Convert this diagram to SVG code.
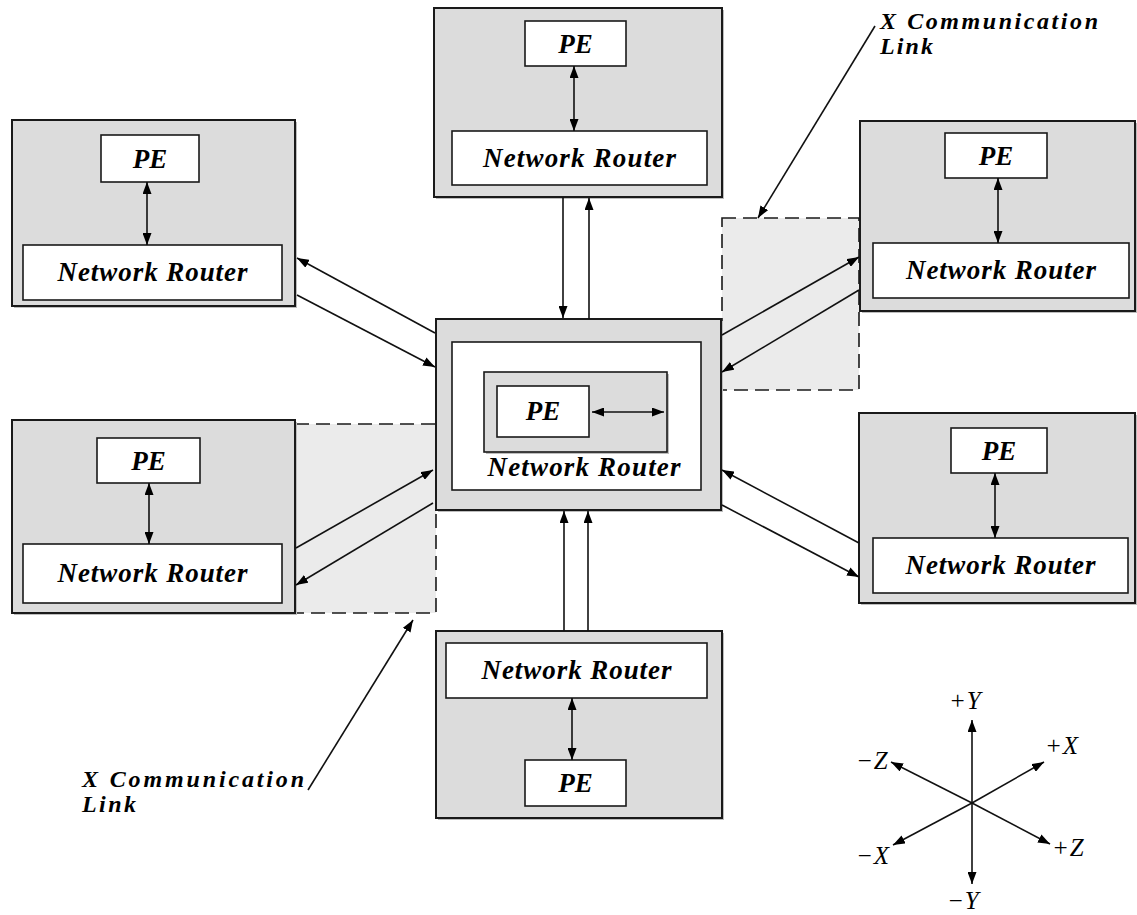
<svg xmlns="http://www.w3.org/2000/svg" width="1137" height="915" viewBox="0 0 1137 915">
<style>
.outer{fill:#dcdcdc;stroke:#1a1a1a;stroke-width:2}
.shadow{fill:#bdbdbd}
.box{fill:#fff;stroke:#1a1a1a;stroke-width:1.6}
.inner{fill:#dcdcdc;stroke:#1a1a1a;stroke-width:1.6}
.zone{fill:#ebebeb;stroke:#1a1a1a;stroke-width:1.6;stroke-dasharray:14 7}
.ln{stroke:#111;stroke-width:1.6;fill:none}
.t{font-family:"Liberation Serif","Times New Roman",serif;font-style:italic;font-weight:bold;font-size:27px;fill:#000}
.lb{font-family:"Liberation Serif","Times New Roman",serif;font-style:italic;font-weight:bold;font-size:24px;fill:#000}
.nr{text-anchor:middle}
.pe{text-anchor:middle}
.ax{font-family:"Liberation Serif","Times New Roman",serif;font-style:italic;font-size:25px;fill:#000;letter-spacing:1px}
</style>
<defs>
<marker id="ah" markerUnits="userSpaceOnUse" markerWidth="12" markerHeight="9" refX="12" refY="4.5" orient="auto-start-reverse">
<path d="M0,0 L12,4.5 L0,9 z" fill="#000"/>
</marker>
</defs>
<rect width="1137" height="915" fill="#fff"/>

<g id="zones">
<rect class="zone" x="722" y="218" width="137" height="172"/>
<rect class="zone" x="295" y="424" width="141" height="189"/>
</g>

<g id="node-top">
<rect class="shadow" x="436" y="10" width="288" height="189"/>
<rect class="outer" x="434" y="8" width="288" height="189"/>
<rect class="box" x="525" y="21" width="101" height="45"/>
<text class="t pe" x="575.5" y="53">PE</text>
<rect class="box" x="452" y="131" width="255" height="54"/>
<text class="t nr" x="579.5" y="167" textLength="193" lengthAdjust="spacing">Network Router</text>
</g>

<g id="node-left-top">
<rect class="shadow" x="14" y="122" width="283" height="186"/>
<rect class="outer" x="12" y="120" width="283" height="186"/>
<rect class="box" x="101" y="135" width="98" height="47"/>
<text class="t pe" x="150" y="168">PE</text>
<rect class="box" x="23" y="245" width="259" height="55"/>
<text class="t nr" x="152.5" y="281" textLength="190" lengthAdjust="spacing">Network Router</text>
</g>

<g id="node-right-top">
<rect class="shadow" x="862" y="123" width="275" height="190"/>
<rect class="outer" x="860" y="121" width="275" height="190"/>
<rect class="box" x="945" y="133" width="102" height="45"/>
<text class="t pe" x="996" y="165">PE</text>
<rect class="box" x="873" y="243" width="256" height="55"/>
<text class="t nr" x="1001" y="279" textLength="190" lengthAdjust="spacing">Network Router</text>
</g>

<g id="node-left-bottom">
<rect class="shadow" x="14" y="422" width="283" height="193"/>
<rect class="outer" x="12" y="420" width="283" height="193"/>
<rect class="box" x="97" y="438" width="103" height="45"/>
<text class="t pe" x="148.5" y="470">PE</text>
<rect class="box" x="23" y="544" width="259" height="59"/>
<text class="t nr" x="152.5" y="582" textLength="190" lengthAdjust="spacing">Network Router</text>
</g>

<g id="node-right-bottom">
<rect class="shadow" x="861" y="415" width="276" height="190"/>
<rect class="outer" x="859" y="413" width="276" height="190"/>
<rect class="box" x="951" y="428" width="96" height="45"/>
<text class="t pe" x="999" y="460">PE</text>
<rect class="box" x="873" y="538" width="255" height="55"/>
<text class="t nr" x="1000.5" y="574" textLength="190" lengthAdjust="spacing">Network Router</text>
</g>

<g id="node-bottom">
<rect class="shadow" x="438" y="633" width="286" height="187"/>
<rect class="outer" x="436" y="631" width="286" height="187"/>
<rect class="box" x="446" y="643" width="261" height="55"/>
<text class="t nr" x="576.5" y="679" textLength="190" lengthAdjust="spacing">Network Router</text>
<rect class="box" x="525" y="760" width="101" height="46"/>
<text class="t pe" x="575.5" y="792">PE</text>
</g>

<g id="node-center">
<rect class="shadow" x="438" y="321" width="285" height="191"/>
<rect class="outer" x="436" y="319" width="285" height="191"/>
<rect class="box" x="452" y="342" width="249" height="148"/>
<rect class="shadow" x="486" y="374" width="183" height="80"/>
<rect class="inner" x="484" y="372" width="183" height="80"/>
<rect class="box" x="497" y="386" width="92" height="51"/>
<text class="t pe" x="543" y="420">PE</text>
<text class="t nr" x="584" y="476" textLength="193" lengthAdjust="spacing">Network Router</text>
</g>

<g id="connectors">
<line class="ln" x1="574" y1="66" x2="574" y2="131" marker-start="url(#ah)" marker-end="url(#ah)"/>
<line class="ln" x1="147" y1="182" x2="147" y2="245" marker-start="url(#ah)" marker-end="url(#ah)"/>
<line class="ln" x1="998" y1="178" x2="998" y2="243" marker-start="url(#ah)" marker-end="url(#ah)"/>
<line class="ln" x1="149" y1="483" x2="149" y2="544" marker-start="url(#ah)" marker-end="url(#ah)"/>
<line class="ln" x1="995" y1="473" x2="995" y2="538" marker-start="url(#ah)" marker-end="url(#ah)"/>
<line class="ln" x1="572" y1="698" x2="572" y2="760" marker-start="url(#ah)" marker-end="url(#ah)"/>
<line class="ln" x1="592" y1="412" x2="664" y2="412" marker-start="url(#ah)" marker-end="url(#ah)"/>

<line class="ln" x1="563" y1="197" x2="563" y2="318" marker-end="url(#ah)"/>
<line class="ln" x1="589" y1="319" x2="589" y2="198" marker-end="url(#ah)"/>

<line class="ln" x1="564" y1="631" x2="564" y2="511" marker-end="url(#ah)"/>
<line class="ln" x1="588" y1="631" x2="588" y2="511" marker-end="url(#ah)"/>

<line class="ln" x1="435" y1="333" x2="297" y2="258" marker-end="url(#ah)"/>
<line class="ln" x1="297" y1="295" x2="435" y2="367" marker-end="url(#ah)"/>

<line class="ln" x1="722" y1="335" x2="859" y2="257" marker-end="url(#ah)"/>
<line class="ln" x1="859" y1="290" x2="722" y2="372" marker-end="url(#ah)"/>

<line class="ln" x1="859" y1="543" x2="722" y2="470" marker-end="url(#ah)"/>
<line class="ln" x1="722" y1="505" x2="859" y2="577" marker-end="url(#ah)"/>

<line class="ln" x1="296" y1="548" x2="433" y2="470" marker-end="url(#ah)"/>
<line class="ln" x1="433" y1="503" x2="296" y2="585" marker-end="url(#ah)"/>

<line class="ln" x1="875" y1="26" x2="758" y2="218" marker-end="url(#ah)"/>
<line class="ln" x1="308" y1="790" x2="413" y2="620" marker-end="url(#ah)"/>
</g>

<g id="label-top">
<text class="lb" x="880" y="29" textLength="218" lengthAdjust="spacing">X Communication</text>
<text class="lb" x="880" y="54" textLength="53" lengthAdjust="spacing">Link</text>
</g>
<g id="label-bottom">
<text class="lb" x="82" y="787" textLength="222" lengthAdjust="spacing">X Communication</text>
<text class="lb" x="82" y="812" textLength="54" lengthAdjust="spacing">Link</text>
</g>

<g id="axes">
<line class="ln" x1="972" y1="803" x2="972" y2="720" marker-end="url(#ah)"/>
<line class="ln" x1="972" y1="803" x2="972" y2="884" marker-end="url(#ah)"/>
<line class="ln" x1="972" y1="803" x2="1044" y2="762" marker-end="url(#ah)"/>
<line class="ln" x1="972" y1="803" x2="891" y2="762" marker-end="url(#ah)"/>
<line class="ln" x1="972" y1="803" x2="893" y2="845" marker-end="url(#ah)"/>
<line class="ln" x1="972" y1="803" x2="1050" y2="844" marker-end="url(#ah)"/>
<text class="ax" x="949" y="709">+Y</text>
<text class="ax" x="1045" y="754">+X</text>
<text class="ax" x="856" y="769">−Z</text>
<text class="ax" x="1052" y="856">+Z</text>
<text class="ax" x="856" y="864">−X</text>
<text class="ax" x="947" y="909">−Y</text>
</g>
</svg>
